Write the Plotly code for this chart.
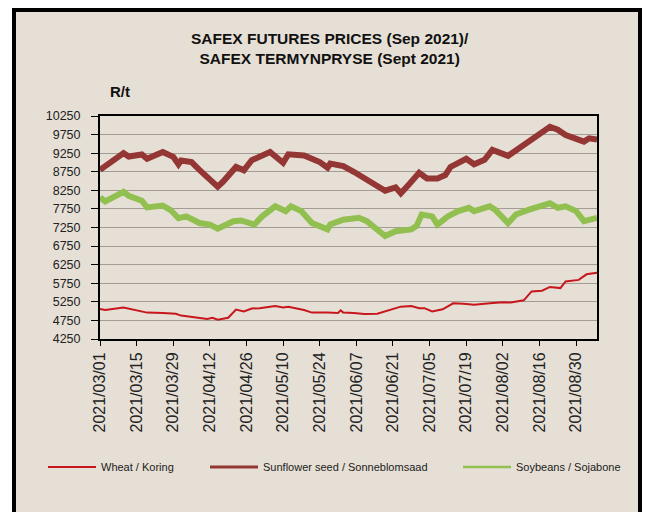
import plotly.graph_objects as go

# --- data (R/t) ---
tick_dates = ["2021-03-01", "2021-03-15", "2021-03-29", "2021-04-12", "2021-04-26",
              "2021-05-10", "2021-05-24", "2021-06-07", "2021-06-21", "2021-07-05",
              "2021-07-19", "2021-08-02", "2021-08-16", "2021-08-30"]
tick_labels = [d.replace("-", "/") for d in tick_dates]

sun_dates = ["2021-03-01", "2021-03-10", "2021-03-12", "2021-03-17", "2021-03-19", "2021-03-25",
             "2021-03-29", "2021-03-31", "2021-04-01", "2021-04-05", "2021-04-08", "2021-04-12",
             "2021-04-15", "2021-04-17", "2021-04-22", "2021-04-25", "2021-04-28", "2021-05-05",
             "2021-05-10", "2021-05-12", "2021-05-18", "2021-05-24", "2021-05-27", "2021-05-28",
             "2021-06-02", "2021-06-06", "2021-06-11", "2021-06-18", "2021-06-22", "2021-06-24",
             "2021-06-27", "2021-07-01", "2021-07-04", "2021-07-08", "2021-07-11", "2021-07-13",
             "2021-07-19", "2021-07-22", "2021-07-26", "2021-07-29", "2021-08-04", "2021-08-10",
             "2021-08-15", "2021-08-20", "2021-08-23", "2021-08-26", "2021-09-02", "2021-09-04",
             "2021-09-07"]
sunflower = [8800, 9250, 9160, 9215, 9100, 9280,
             9150, 8950, 9050, 9010, 8800, 8530,
             8350, 8480, 8880, 8790, 9060, 9280,
             8990, 9220, 9190, 9010, 8860, 8970,
             8900, 8750, 8530, 8240, 8330, 8170,
             8400, 8720, 8570, 8570, 8660, 8880,
             9100, 8950, 9070, 9340, 9180, 9470,
             9700, 9960, 9880, 9740, 9560, 9650,
             9620]

soy_dates = ["2021-03-01", "2021-03-03", "2021-03-10", "2021-03-12", "2021-03-17", "2021-03-19",
             "2021-03-25", "2021-03-28", "2021-03-31", "2021-04-03", "2021-04-08", "2021-04-12",
             "2021-04-15", "2021-04-21", "2021-04-24", "2021-04-29", "2021-05-02", "2021-05-07",
             "2021-05-11", "2021-05-13", "2021-05-17", "2021-05-21", "2021-05-27", "2021-05-28",
             "2021-06-02", "2021-06-08", "2021-06-11", "2021-06-18", "2021-06-22", "2021-06-28",
             "2021-06-30", "2021-07-02", "2021-07-06", "2021-07-08", "2021-07-12", "2021-07-16",
             "2021-07-20", "2021-07-22", "2021-07-28", "2021-07-30", "2021-08-04", "2021-08-07",
             "2021-08-12", "2021-08-15", "2021-08-20", "2021-08-23", "2021-08-26", "2021-08-30",
             "2021-09-02", "2021-09-07"]
soybeans = [8060, 7950, 8210, 8100, 7970, 7790,
            7840, 7720, 7500, 7550, 7370, 7330,
            7220, 7420, 7440, 7330, 7550, 7820,
            7690, 7820, 7690, 7370, 7200, 7330,
            7460, 7510, 7420, 7020, 7150, 7200,
            7290, 7600, 7550, 7330, 7550, 7690,
            7780, 7690, 7820, 7730, 7370, 7600,
            7730, 7790, 7900, 7780, 7820, 7690,
            7420, 7510]

wheat_dates = ["2021-03-01", "2021-03-03", "2021-03-10", "2021-03-13", "2021-03-19", "2021-03-25",
               "2021-03-30", "2021-04-01", "2021-04-06", "2021-04-11", "2021-04-13", "2021-04-15",
               "2021-04-19", "2021-04-22", "2021-04-25", "2021-04-28", "2021-05-01", "2021-05-07",
               "2021-05-10", "2021-05-12", "2021-05-18", "2021-05-21", "2021-05-27", "2021-05-31",
               "2021-06-01", "2021-06-02", "2021-06-06", "2021-06-10", "2021-06-15", "2021-06-19",
               "2021-06-24", "2021-06-28", "2021-07-01", "2021-07-03", "2021-07-06", "2021-07-10",
               "2021-07-14", "2021-07-18", "2021-07-22", "2021-07-28", "2021-08-02", "2021-08-05",
               "2021-08-10", "2021-08-13", "2021-08-17", "2021-08-20", "2021-08-24", "2021-08-26",
               "2021-08-31", "2021-09-03", "2021-09-07"]
wheat = [5060, 5030, 5100, 5060, 4960, 4950,
         4930, 4880, 4840, 4790, 4820, 4770,
         4820, 5040, 4990, 5070, 5080, 5140,
         5100, 5120, 5030, 4960, 4960, 4950,
         5020, 4960, 4950, 4920, 4930, 5010,
         5120, 5140, 5080, 5080, 4990, 5050,
         5210, 5200, 5170, 5210, 5240, 5230,
         5290, 5530, 5550, 5650, 5620, 5800,
         5840, 5990, 6030]

BEIGE = "#E6DFD5"
FONT = "Liberation Sans, Arial, sans-serif"
C_WHEAT, C_SUN, C_SOY = "#C8161D", "#943634", "#92C050"

fig = go.Figure()
fig.add_trace(go.Scatter(x=wheat_dates, y=wheat, mode="lines", showlegend=False,
                         line=dict(color=C_WHEAT, width=2)))
fig.add_trace(go.Scatter(x=sun_dates, y=sunflower, mode="lines", showlegend=False,
                         line=dict(color=C_SUN, width=6)))
fig.add_trace(go.Scatter(x=soy_dates, y=soybeans, mode="lines", showlegend=False,
                         line=dict(color=C_SOY, width=6)))
# legend entries (thinner keys, as in the original)
fig.add_trace(go.Scatter(x=[None], y=[None], mode="lines", name="Wheat / Koring",
                         line=dict(color=C_WHEAT, width=2), legend="legend"))
fig.add_trace(go.Scatter(x=[None], y=[None], mode="lines", name="Sunflower seed / Sonneblomsaad",
                         line=dict(color=C_SUN, width=3), legend="legend2"))
fig.add_trace(go.Scatter(x=[None], y=[None], mode="lines", name="Soybeans / Sojabone",
                         line=dict(color=C_SOY, width=2.5), legend="legend3"))

# plot area in px: x 100..597, y 116..339
L, R, T, B = 100, 57, 116, 173
PW, PH = 654 - L - R, 512 - T - B


def px_x(p):
    return (p - L) / PW


def px_y(p):
    return 1 - (p - T) / PH


leg_font = dict(family=FONT, size=11, color="#222222")
leg_common = dict(orientation="h", bgcolor="rgba(0,0,0,0)", font=leg_font,
                  xanchor="left", yanchor="middle", y=px_y(467), itemwidth=48)

fig.update_layout(
    width=654, height=512,
    margin=dict(l=L, r=R, t=T, b=B),
    paper_bgcolor="white",
    plot_bgcolor="rgba(0,0,0,0)",
    showlegend=True,
    legend=dict(x=px_x(43), **leg_common),
    legend2=dict(x=px_x(205), **leg_common),
    legend3=dict(x=px_x(458), **leg_common),
    shapes=[dict(type="rect", xref="paper", yref="paper",
                 x0=px_x(14), x1=px_x(640), y0=px_y(530), y1=px_y(10),
                 fillcolor=BEIGE, line=dict(color="black", width=4), layer="below")],
    annotations=[
        dict(text="<b>SAFEX FUTURES PRICES (Sep 2021)/<br>SAFEX TERMYNPRYSE (Sept 2021)</b>",
             xref="paper", yref="paper", x=px_x(330), y=px_y(48), showarrow=False,
             xanchor="center", yanchor="middle",
             font=dict(family=FONT, size=15.5, color="#111111")),
        dict(text="<b>R/t</b>", xref="paper", yref="paper", x=px_x(108), y=px_y(92),
             showarrow=False, xanchor="left", yanchor="middle",
             font=dict(family=FONT, size=15, color="#111111")),
    ],
)

fig.update_yaxes(range=[4250, 10250], tick0=4250, dtick=500, tickformat="d",
                 showgrid=True, gridcolor="#A29C95", gridwidth=1,
                 showline=True, linecolor="black", linewidth=2, mirror=True,
                 ticks="outside", ticklen=7, tickcolor="black", ticklabelstandoff=8,
                 tickfont=dict(family=FONT, size=12.5, color="#222222"),
                 zeroline=False)
fig.update_xaxes(type="date", range=["2021-03-01", "2021-09-07"],
                 tickvals=tick_dates, ticktext=tick_labels, tickangle=-90,
                 showgrid=False, showline=True, linecolor="black", linewidth=2, mirror=True,
                 ticks="outside", ticklen=5, tickcolor="black",
                 tickfont=dict(family=FONT, size=16, color="#222222"))

# the page has a default 8px body margin; remove it so the figure fills the window
fig.write_html("out.html", config={"displayModeBar": False},
               post_script="document.body.style.margin='0';")
